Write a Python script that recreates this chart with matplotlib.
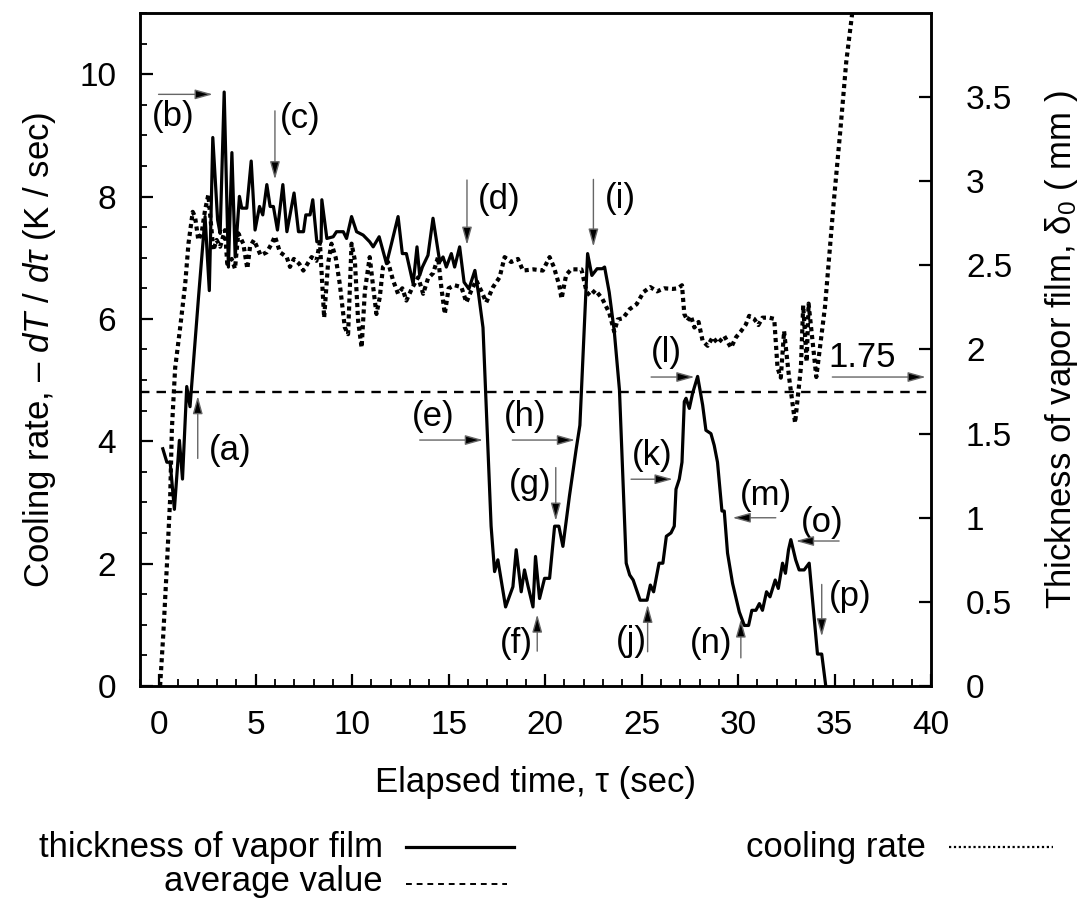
import matplotlib
matplotlib.use('Agg')
import matplotlib.pyplot as plt
from matplotlib.lines import Line2D
from matplotlib.ticker import MultipleLocator, FormatStrFormatter

plt.rcParams['font.family'] = ['Liberation Sans', 'DejaVu Sans']
plt.rcParams['mathtext.fontset'] = 'custom'
plt.rcParams['mathtext.rm'] = 'Liberation Sans'
plt.rcParams['mathtext.it'] = 'Liberation Sans:italic'

# thickness of vapor film (mm), right axis
film_t = [0.19, 0.40, 0.57, 0.79, 1.05, 1.21, 1.43, 1.60, 2.04, 2.38, 2.60, 2.78, 3.03, 3.16,
          3.37, 3.59, 3.77, 3.94, 4.16, 4.28, 4.54, 4.77, 4.97, 5.20, 5.37, 5.58, 5.75, 5.92,
          6.13, 6.41, 6.62, 6.99, 7.22, 7.48, 7.60, 7.82, 7.96, 8.17, 8.39, 8.43, 8.69, 9.02,
          9.19, 9.54, 9.71, 9.97, 10.23, 10.57, 10.91, 11.09, 11.40, 11.78, 12.04, 12.38, 12.60,
          12.81, 13.16, 13.36, 13.50, 13.64, 13.93, 14.19, 14.54, 14.71, 14.88, 15.14, 15.31,
          15.57, 15.80, 16.05, 16.36, 16.55, 16.78, 17.20, 17.38, 17.55, 17.95, 18.33, 18.50,
          18.76, 18.93, 19.10, 19.37, 19.50, 19.71, 19.97, 20.23, 20.49, 20.71, 20.92, 21.26,
          21.61, 21.80, 22.06, 22.20, 22.42, 22.69, 22.96, 23.08, 23.32, 23.58, 23.85, 24.20,
          24.38, 24.56, 24.92, 25.28, 25.45, 25.62, 25.90, 26.10, 26.28, 26.52, 26.69, 26.78,
          26.95, 27.09, 27.21, 27.30, 27.47, 27.64, 27.82, 27.90, 28.16, 28.33, 28.59, 28.76,
          28.93, 29.16, 29.28, 29.45, 29.71, 30.06, 30.32, 30.54, 30.71, 30.92, 31.10, 31.26,
          31.47, 31.65, 31.92, 32.08, 32.30, 32.45, 32.61, 32.73, 32.98, 33.16, 33.42, 33.68,
          34.11, 34.33, 34.54]
film_mm = [1.41, 1.33, 1.33, 1.05, 1.46, 1.23, 1.78, 1.66, 2.31, 2.79, 2.35, 3.26, 2.77, 2.69,
           3.53, 2.49, 3.17, 2.55, 2.91, 2.84, 2.84, 3.12, 2.71, 2.85, 2.80, 2.98, 2.85, 2.85,
           2.71, 2.98, 2.70, 2.93, 2.70, 2.70, 2.80, 2.80, 2.89, 2.64, 2.64, 2.89, 2.66, 2.67,
           2.70, 2.70, 2.66, 2.79, 2.70, 2.68, 2.64, 2.61, 2.67, 2.51, 2.63, 2.79, 2.57,
           2.57, 2.39, 2.61, 2.44, 2.49, 2.56, 2.78, 2.52, 2.55, 2.49, 2.57, 2.49,
           2.61, 2.40, 2.36, 2.47, 2.33, 2.13, 0.95, 0.68, 0.75, 0.47, 0.59, 0.81,
           0.56, 0.69, 0.60, 0.47, 0.77, 0.52, 0.64, 0.64, 0.95, 0.95, 0.83, 1.13,
           1.41, 1.55, 2.22, 2.57, 2.44, 2.48, 2.48, 2.49, 2.34, 2.11, 1.76, 0.73,
           0.66, 0.63, 0.51, 0.51, 0.60, 0.56, 0.73, 0.73, 0.89, 0.91, 0.95, 1.17,
           1.23, 1.33, 1.69, 1.71, 1.65, 1.74, 1.81, 1.84, 1.67, 1.52, 1.50, 1.43,
           1.33, 1.04, 1.04, 0.79, 0.61, 0.44, 0.36, 0.36, 0.45, 0.45, 0.49, 0.45,
           0.56, 0.53, 0.63, 0.58, 0.73, 0.67, 0.81, 0.87, 0.75, 0.69, 0.69, 0.73,
           0.19, 0.19, 0.0]

# cooling rate (K/sec), left axis
rate_t = [0.05, 0.22, 0.40, 0.57, 0.66, 0.83, 1.09, 1.35, 1.52, 1.74, 1.86, 2.03, 2.20, 2.38,
          2.55, 2.81, 2.98, 3.16, 3.41, 3.53, 3.76, 3.93, 4.10, 4.36, 4.57, 4.71, 4.91, 5.26,
          5.58, 5.83, 6.00, 6.26, 6.61, 6.78, 6.98, 7.26, 7.47, 7.90, 8.15, 8.33, 8.55, 8.75,
          8.93, 9.15, 9.36, 9.62, 9.79, 9.97, 10.14, 10.31, 10.49, 10.66, 10.91, 11.09, 11.26,
          11.43, 11.60, 11.86, 12.12, 12.38, 12.60, 12.81, 13.10, 13.42, 13.68, 13.93, 14.20,
          14.45, 14.62, 14.80, 15.00, 15.31, 15.66, 15.92, 16.17, 16.43, 16.70, 16.95, 17.30,
          17.64, 17.90, 18.24, 18.59, 18.85, 19.39, 19.88, 20.23, 20.45, 20.73, 20.85, 21.09,
          21.35, 21.88, 22.15, 22.33, 22.60, 22.96, 23.32, 23.58, 23.76, 24.03, 24.38, 24.74,
          25.10, 25.45, 25.80, 26.17, 26.61, 26.88, 27.09, 27.21, 27.38, 27.55, 27.73, 27.95,
          28.16, 28.42, 28.68, 28.95, 29.28, 29.63, 29.89, 30.15, 30.40, 30.57, 30.83, 31.05,
          31.26, 31.61, 31.87, 32.04, 32.21, 32.38, 32.64, 32.95, 33.25, 33.37, 33.55, 33.65,
          34.05, 34.50, 34.95, 35.30, 35.60, 35.95, 36.10]
rate_k = [0.0, 0.87, 1.96, 3.06, 4.20, 5.20, 5.86, 6.57, 7.23, 7.75, 7.67, 7.29, 7.40, 7.78,
          8.03, 7.12, 7.29, 7.18, 7.45, 6.90, 6.98, 6.82, 7.40, 7.23, 6.82, 7.18, 7.29, 7.04,
          7.09, 7.23, 7.35, 7.09, 7.01, 6.85, 6.98, 6.90, 6.79, 7.01, 6.95, 7.25, 6.02, 6.90,
          7.23, 7.00, 6.57, 5.86, 5.75, 7.23, 6.96, 5.97, 5.53, 6.46, 7.01, 6.52, 6.08,
          6.35, 6.85, 6.93, 6.63, 6.41, 6.50, 6.30, 6.50, 6.68, 6.41, 6.66, 6.75,
          7.01, 6.52, 6.08, 6.50, 6.55, 6.52, 6.27, 6.46, 6.63, 6.45, 6.27, 6.52,
          6.68, 7.01, 6.93, 6.98, 6.79, 6.81, 6.79, 7.01, 6.85, 6.55, 6.33, 6.72,
          6.81, 6.81, 6.44, 6.38, 6.47, 6.33, 6.10, 5.79, 5.99, 6.01, 6.16, 6.24,
          6.44, 6.52, 6.45, 6.50, 6.49, 6.50, 6.55, 6.08, 5.97, 6.05, 5.86, 5.95,
          5.64, 5.56, 5.70, 5.60, 5.72, 5.53, 5.70, 5.80, 5.91, 6.05, 6.00, 5.90,
          6.02, 6.02, 6.00, 5.20, 5.04, 5.80, 5.04, 4.30, 5.20, 6.22, 5.30, 6.25,
          5.05, 6.20, 7.90, 9.10, 10.20, 11.10, 11.60]

average_mm = 1.75
right_ticks = [0, 0.5, 1, 1.5, 2, 2.5, 3, 3.5]

# annotation labels: text, text position, arrow tail, arrow tip (left-axis units)
notes = [
    ('(a)', (3.67, 3.85), (2.0, 3.72), (2.0, 4.74)),
    ('(b)', (0.74, 9.30), (-0.03, 9.67), (2.78, 9.67)),
    ('(c)', (7.30, 9.27), (6.0, 9.40), (6.0, 8.28)),
    ('(d)', (17.6, 7.95), (15.95, 8.27), (15.95, 7.21)),
    ('(e)', (14.2, 4.40), (13.5, 4.02), (16.78, 4.02)),
    ('(f)', (18.5, 0.70), (19.59, 0.57), (19.59, 1.17)),
    ('(g)', (19.2, 3.30), (20.55, 3.57), (20.55, 2.70)),
    ('(h)', (18.95, 4.40), (18.3, 4.02), (21.55, 4.02)),
    ('(i)', (23.9, 7.97), (22.5, 8.28), (22.5, 7.18)),
    ('(j)', (24.45, 0.73), (25.31, 0.56), (25.31, 1.33)),
    ('(k)', (25.57, 3.77), (24.45, 3.38), (26.61, 3.38)),
    ('(l)', (26.26, 5.45), (25.49, 5.05), (27.74, 5.05)),
    ('(m)', (31.43, 3.12), (31.95, 2.75), (29.71, 2.75)),
    ('(n)', (28.59, 0.70), (30.14, 0.46), (30.14, 1.09)),
    ('(o)', (34.37, 2.68), (35.23, 2.37), (32.99, 2.37)),
    ('(p)', (35.83, 1.47), (34.33, 1.66), (34.33, 0.81)),
    ('1.75', (36.44, 5.37), (34.88, 5.05), (39.72, 5.05)),
]

fig = plt.figure(figsize=(10.84, 9.01), dpi=100)
ax = fig.add_axes([0.129, 0.2386, 0.73, 0.747])
ax2 = ax.twinx()

ax.plot(rate_t, rate_k, color='k', lw=3.0, linestyle=(0, (1, 0.9)), dash_capstyle='butt')
ax2.plot(film_t, film_mm, color='k', lw=2.3)
ax2.axhline(average_mm, color='k', lw=1.7, linestyle=(0, (4, 3)))

ax.set_xlim(-1, 40)
ax.set_ylim(0, 11)
ax2.set_ylim(0, 4)

ax.xaxis.set_major_locator(MultipleLocator(5))
ax.xaxis.set_minor_locator(MultipleLocator(1))
ax.yaxis.set_major_locator(MultipleLocator(2))
ax.yaxis.set_minor_locator(MultipleLocator(0.5))
ax2.set_yticks(right_ticks)
ax2.yaxis.set_major_formatter(FormatStrFormatter('%g'))

for a in (ax, ax2):
    for s in a.spines.values():
        s.set_linewidth(1.8)
ax.tick_params(axis='both', which='major', direction='in', length=9, width=1.6,
               labelsize=24)
ax.tick_params(axis='both', which='minor', direction='in', length=5, width=1.3)
ax.tick_params(axis='y', which='major', pad=17)
ax.tick_params(axis='x', which='major', pad=17)
ax2.tick_params(axis='y', which='major', direction='in', length=9, width=1.6,
                labelsize=24, pad=25)

ax.set_xlabel('Elapsed time, τ (sec)', fontsize=25, labelpad=18)
ax.set_ylabel('Cooling rate, – $dT$ / $d\\tau$ (K / sec)', fontsize=25, labelpad=15)
ax2.set_ylabel('Thickness of vapor film, δ$_0$ ( mm )', fontsize=25, labelpad=22)

for label, txt_pos, tail, tip in notes:
    ax.text(txt_pos[0], txt_pos[1], label, fontsize=25, ha='center', va='center')
    ax.annotate('', xy=tip, xytext=tail,
                arrowprops=dict(arrowstyle='-|>,head_length=0.9,head_width=0.25',
                                mutation_scale=12, ec='#666666', fc='k', lw=1.0,
                                shrinkA=0, shrinkB=0))

# legend below the axes
def fx(px):
    return px / 1084

def fy(py):
    return 1 - py / 901

fig.text(fx(383), fy(847), 'thickness of vapor film', fontsize=25, ha='right', va='center')
fig.add_artist(Line2D([fx(406), fx(514)], [fy(847), fy(847)], color='k', lw=2.3))
fig.text(fx(383), fy(882), 'average value', fontsize=25, ha='right', va='center')
fig.add_artist(Line2D([fx(406), fx(507)], [fy(884), fy(884)], color='k', lw=1.4,
                      linestyle=(0, (3, 2.5))))
fig.text(fx(926), fy(847), 'cooling rate', fontsize=25, ha='right', va='center')
fig.add_artist(Line2D([fx(949), fx(1053)], [fy(847), fy(847)], color='k', lw=1.6,
                      linestyle=(0, (1, 1.2)), dash_capstyle='butt'))

fig.savefig('out.png', dpi=100)
